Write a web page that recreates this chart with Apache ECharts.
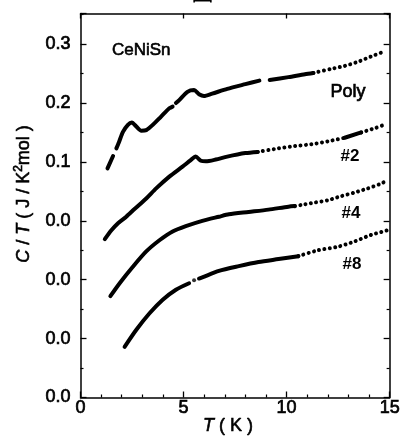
<!DOCTYPE html>
<html>
<head>
<meta charset="utf-8">
<script src="https://cdn.jsdelivr.net/npm/echarts@6/dist/echarts.min.js"></script>
<style>
html,body{margin:0;padding:0;background:#fff;}
#chart{width:403px;height:445px;}
</style>
</head>
<body>
<div id="chart"></div>
<script>
// ---- data (T in K, plotted C/T values incl. vertical offsets); null = gap in the record
const polySolid = [[1.31,0.089],[1.58,0.110],null,[1.74,0.123],[1.87,0.134],[2.06,0.151],[2.30,0.163],[2.49,0.167],[2.71,0.160],[2.95,0.153],[3.19,0.154],[3.51,0.163],[3.91,0.177],[4.31,0.191],[4.47,0.194],null,[4.63,0.200],[4.79,0.205],[5.19,0.219],[5.51,0.222],[5.75,0.215],[5.99,0.212],[6.39,0.216],[7.12,0.224],[8.00,0.232],[8.68,0.238],null,[9.18,0.239],[10.09,0.244],[10.89,0.249],[11.30,0.251]];
const polyDots  = [[11.30,0.251],[12.17,0.258],[12.82,0.263],[13.46,0.270],[14.10,0.279],[14.70,0.287]];

const s2Solid = [[1.18,-0.031],[1.50,-0.016],[1.82,-0.004],[2.22,0.007],[2.62,0.020],[3.19,0.038],[3.67,0.055],[4.31,0.075],[4.95,0.092],[5.35,0.103],[5.59,0.109],[5.84,0.102],[6.08,0.101],[6.56,0.104],[7.12,0.109],[8.00,0.115],[8.60,0.117],null,[12.82,0.141],[13.62,0.150]];
const s2Dots  = [[8.60,0.117],[9.61,0.123],[10.41,0.127],[11.21,0.130],[12.01,0.135],[12.82,0.141],null,[13.62,0.150],[14.26,0.157],[14.74,0.163]];

const s4Solid = [[1.45,-0.128],[1.90,-0.106],[2.54,-0.078],[3.19,-0.052],[3.83,-0.033],[4.47,-0.018],[5.11,-0.009],[5.91,0.000],[6.72,0.007],[7.20,0.011],[8.16,0.015],[9.12,0.019],[10.09,0.024],[10.40,0.025]];
const s4Dots  = [[10.40,0.025],[10.73,0.027],[11.37,0.031],[12.01,0.035],[12.66,0.042],[13.30,0.048],[13.94,0.055],[14.50,0.062],[14.87,0.068]];

const s8Solid = [[2.14,-0.214],[2.71,-0.185],[3.35,-0.157],[3.99,-0.134],[4.63,-0.117],[5.27,-0.106],null,[5.75,-0.098],[5.91,-0.096],[6.72,-0.085],[7.68,-0.077],[8.64,-0.070],[9.61,-0.065],[10.57,-0.060]];
const s8Lone  = [[5.51,-0.101]];
const s8Dots  = [[10.57,-0.060],[11.53,-0.050],[12.49,-0.044],[13.30,-0.035],[14.10,-0.024],[14.90,-0.016]];

const xTicks = [0, 5, 10, 15];
const yTickLabels = ['0.0','0.0','0.0','0.0','0.1','0.2','0.3']; // at -0.3 ... 0.3
const curveNames = ['Poly', '#2', '#4', '#8'];
const sampleName = 'CeNiSn';

// ---- chart
const fix = d => d.map(p => p === null ? ['-','-'] : p);
const FONT = '"Liberation Sans", Arial, sans-serif';
const chart = echarts.init(document.getElementById('chart'), null, {renderer:'canvas'});

const solid = (data) => ({type:'line', data:fix(data), showSymbol:false, smooth:0.25, connectNulls:false,
  lineStyle:{color:'#000', width:4, cap:'round', join:'round'}, silent:true, animation:false});
const dots = (data) => ({type:'line', data:fix(data), showSymbol:false, smooth:0.25, connectNulls:false,
  lineStyle:{color:'#000', width:4, type:[0.01, 5.4], cap:'round'}, silent:true, animation:false});

const axisBase = {
  axisLine:{show:true, onZero:false, lineStyle:{color:'#000', width:1.5}},
  splitLine:{show:false},
};
const lbl = {color:'#000', fontSize:18, fontFamily:FONT, textBorderColor:'#000', textBorderWidth:0.7};

chart.setOption({
  animation:false,
  backgroundColor:'#fff',
  grid:{left:80.5, right:11, top:13.5, bottom:47.5, containLabel:false},
  xAxis:[
    Object.assign({type:'value', position:'bottom', min:0, max:15, interval:5,
      axisTick:{show:true, inside:true, length:6, lineStyle:{color:'#000', width:1.3}},
      minorTick:{show:true, splitNumber:5, length:3, lineStyle:{color:'#000', width:1.2}},
      axisLabel:Object.assign({margin:2, formatter: v => xTicks.includes(v) ? String(v) : ''}, lbl)}, axisBase),
    Object.assign({type:'value', position:'top', min:0, max:15, interval:5,
      axisTick:{show:true, inside:true, length:5, lineStyle:{color:'#000', width:1.3}},
      axisLabel:{show:false}}, axisBase)
  ],
  yAxis:[
    Object.assign({type:'value', position:'left', min:-0.3, max:0.352, interval:0.1,
      axisTick:{show:true, inside:true, length:6, lineStyle:{color:'#000', width:1.3}},
      minorTick:{show:true, splitNumber:2, length:3, lineStyle:{color:'#000', width:1.2}},
      axisLabel:Object.assign({margin:10,
        formatter: v => { const i = Math.round((v + 0.3) / 0.1); return (Math.abs(v + 0.3 - i*0.1) < 1e-6 && i >= 0 && i < yTickLabels.length) ? yTickLabels[i] : ''; }}, lbl)}, axisBase),
    Object.assign({type:'value', position:'right', min:-0.3, max:0.352, interval:0.1,
      axisTick:{show:true, inside:true, length:6, lineStyle:{color:'#000', width:1.3}},
      minorTick:{show:true, splitNumber:2, length:3, lineStyle:{color:'#000', width:1.2}},
      axisLabel:{show:false}}, axisBase)
  ],
  series:[
    solid(polySolid), dots(polyDots),
    solid(s2Solid), dots(s2Dots),
    solid(s4Solid), dots(s4Dots),
    solid(s8Solid), dots(s8Dots),
    {type:'scatter', data:s8Lone, symbolSize:4, itemStyle:{color:'#000'}, silent:true}
  ],
  graphic:[
    {type:'text', x:211, y:3, style:{text:'图 2', font:'22px "Noto Sans CJK SC"', fill:'#000', textAlign:'center', textVerticalAlign:'bottom'}, silent:true},
    {type:'text', x:112, y:50, style:{text:sampleName, font:'17px ' + FONT, fill:'#000', stroke:'#000', lineWidth:0.6, textVerticalAlign:'middle'}},
    {type:'text', x:348, y:92, style:{text:curveNames[0], font:'18px ' + FONT, fill:'#000', stroke:'#000', lineWidth:0.7, textAlign:'center', textVerticalAlign:'middle'}},
    {type:'text', x:350, y:156, style:{text:curveNames[1], font:'bold 17px ' + FONT, fill:'#000', textAlign:'center', textVerticalAlign:'middle'}},
    {type:'text', x:351, y:213, style:{text:curveNames[2], font:'bold 17px ' + FONT, fill:'#000', textAlign:'center', textVerticalAlign:'middle'}},
    {type:'text', x:352, y:264, style:{text:curveNames[3], font:'bold 17px ' + FONT, fill:'#000', textAlign:'center', textVerticalAlign:'middle'}},
    {type:'text', x:228, y:426, style:{
      text:'{i|T} ( K )', fill:'#000', stroke:'#000', lineWidth:0.6, textAlign:'center', textVerticalAlign:'middle',
      font:'18px ' + FONT,
      rich:{i:{fontStyle:'italic', fontSize:18, fontFamily:FONT}}}},
    {type:'text', x:24, y:194, rotation:Math.PI/2, style:{
      text:'{i|C} / {i|T} ( J / K{s|2}mol )', fill:'#000', stroke:'#000', lineWidth:0.6, textAlign:'center', textVerticalAlign:'middle',
      font:'18px ' + FONT,
      rich:{i:{fontStyle:'italic', fontSize:18, fontFamily:FONT, lineHeight:22},
            s:{fontSize:12, fontFamily:FONT, verticalAlign:'top', lineHeight:22}}}}
  ]
});
</script>
</body>
</html>
